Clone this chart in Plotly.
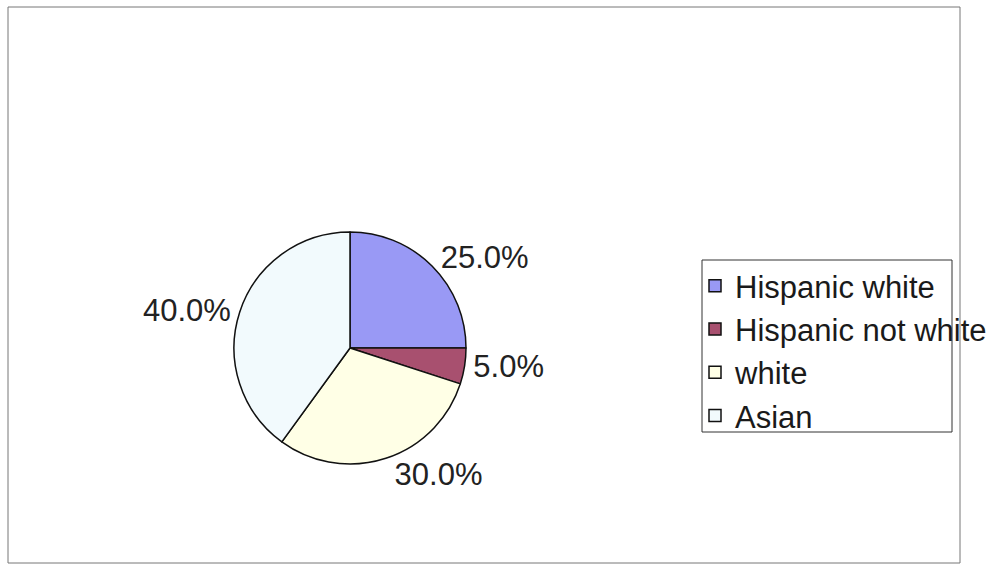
import plotly.graph_objects as go

labels = ["Hispanic white", "Hispanic not white", "white", "Asian"]
values = [25.0, 5.0, 30.0, 40.0]
colors = ["#9999F5", "#A8506F", "#FFFFE6", "#F2FAFD"]

W, H = 996, 566

fig = go.Figure()
fig.add_trace(go.Pie(
    labels=labels,
    values=values,
    sort=False,
    direction="clockwise",
    rotation=0,
    marker=dict(colors=colors, line=dict(color="#111111", width=1.5)),
    textposition="outside",
    texttemplate="%{percent:.1%}",
    textfont=dict(family="Liberation Sans, Arial", size=31, color="#222222"),
    domain=dict(x=[(350 - 116) / W, (350 + 116) / W], y=[(H - 348 - 116) / H, (H - 348 + 116) / H]),
    hoverinfo="label+percent",
))

fig.update_layout(
    width=W, height=H,
    margin=dict(l=0, r=0, t=0, b=0),
    paper_bgcolor="white",
    plot_bgcolor="white",
    showlegend=True,
    legend=dict(
        x=695 / W, y=(H - 259) / H, xanchor="left", yanchor="top",
        font=dict(family="Liberation Sans, Arial", size=31, color="#1a1a1a"),
        bgcolor="rgba(0,0,0,0)",
        borderwidth=0,
        itemwidth=30,
    ),
    shapes=[
        dict(type="rect", xref="paper", yref="paper",
             x0=8 / W, x1=960 / W, y0=(H - 563) / H, y1=(H - 7) / H,
             line=dict(color="#777777", width=1), fillcolor="rgba(0,0,0,0)"),
        dict(type="rect", xref="paper", yref="paper",
             x0=702 / W, x1=952 / W, y0=(H - 432) / H, y1=(H - 260) / H,
             line=dict(color="#333333", width=1), fillcolor="rgba(0,0,0,0)"),
    ],
)

fig.write_html(
    "out.html",
    config={"displayModeBar": False},
    post_script="document.body.style.margin='0';document.body.style.overflow='hidden';",
)
